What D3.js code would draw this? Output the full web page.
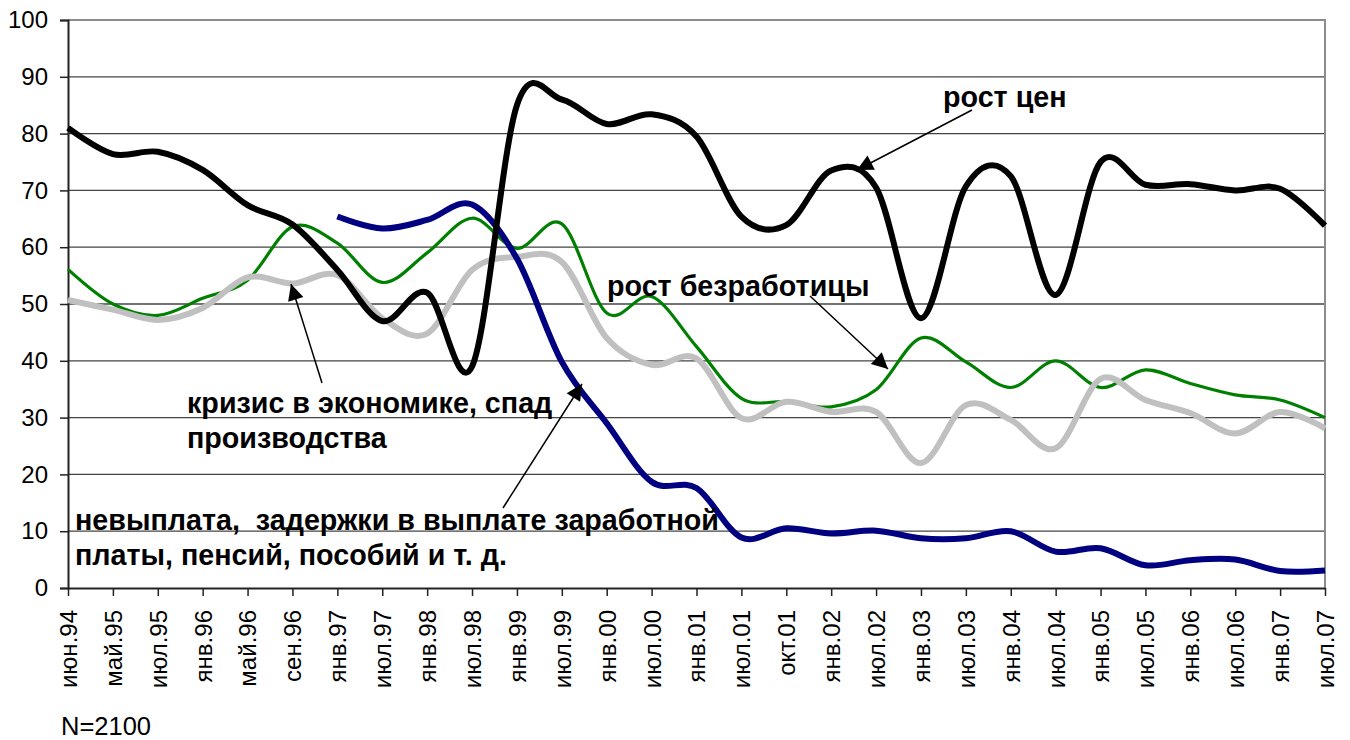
<!DOCTYPE html>
<html>
<head>
<meta charset="utf-8">
<script src="https://cdn.jsdelivr.net/npm/d3@7"></script>
<style>
  body { margin: 0; background: #fff; }
  text { font-family: "Liberation Sans", Arial, sans-serif; }
</style>
</head>
<body>
<div id="main"></div>
<script>
var months = ["июн.94", "май.95", "июл.95", "янв.96", "май.96", "сен.96", "янв.97", "июл.97",
    "янв.98", "июл.98", "янв.99", "июл.99", "янв.00", "июл.00", "янв.01", "июл.01", "окт.01",
    "янв.02", "июл.02", "янв.03", "июл.03", "янв.04", "июл.04", "янв.05", "июл.05", "янв.06",
    "июл.06", "янв.07", "июл.07"];

var prices = [81, 76.4, 76.8, 73.6, 67.4, 64, 56, 47, 52, 39, 85, 86, 81.7, 83.4, 79.5,
    65.4, 63.9, 73.5, 70.5, 47.5, 70.7, 72.5, 51.6, 75, 71, 71.1, 70, 70.3, 63.8];
var unemployment = [56.1, 50, 48, 51, 54.2, 63.6, 60.7, 53.8, 59, 65.1, 59.8, 64.1, 48.4, 51.3,
    42.5, 33.4, 32.8, 31.9, 34.9, 44, 39.8, 35.3, 40, 35.3, 38.4, 36, 34, 33.1, 30];
var crisis = [50.7, 49, 47.2, 49.3, 54.7, 53.6, 55.1, 47.5, 44.8, 56, 58.3, 57.4, 44, 39.3,
    40.4, 29.9, 32.8, 31, 31, 22, 32.2, 29.6, 24.6, 36.8, 33.1, 30.8, 27.2, 31, 28.1];
var arrears = [null, null, null, null, null, null, 65.4, 63.3, 64.8, 67.5, 58, 39.8, 29, 18.7,
    17.6, 8.9, 10.5, 9.6, 10.1, 8.75, 8.75, 10, 6.4, 7, 4, 4.9, 5, 3, 3.1];

var yTicks = [0, 10, 20, 30, 40, 50, 60, 70, 80, 90, 100];

var cfg = { width: 1350, height: 740, left: 68, right: 1325, top: 20, bottom: 588 };

var svg = d3.select("#main").append("svg")
    .attr("width", cfg.width)
    .attr("height", cfg.height);

var x = d3.scalePoint().domain(months).range([cfg.left, cfg.right]);
var y = d3.scaleLinear().domain([0, 100]).range([cfg.bottom, cfg.top]);

// gridlines
svg.selectAll(".grid")
    .data(yTicks.filter(function (d) { return d > 0 && d < 100; }))
    .enter().append("line")
    .attr("x1", cfg.left).attr("x2", cfg.right)
    .attr("y1", function (d) { return y(d); })
    .attr("y2", function (d) { return y(d); })
    .style("stroke", "#444").style("stroke-width", 1.3);

// frame top / right
svg.append("path")
    .attr("d", "M" + cfg.left + "," + y(100) + "H" + cfg.right + "V" + cfg.bottom)
    .style("fill", "none").style("stroke", "#8c8c8c").style("stroke-width", 2);

// y axis
var yAxis = svg.append("g")
    .attr("transform", "translate(" + cfg.left + ",0)")
    .call(d3.axisLeft(y).tickValues(yTicks).tickSize(8).tickPadding(12));
yAxis.select(".domain").style("stroke", "#222").style("stroke-width", 2);
yAxis.selectAll(".tick line").style("stroke", "#222").style("stroke-width", 1.5);
yAxis.selectAll("text").style("font-size", "24px").style("fill", "#000")
    .attr("font-family", null);

// x axis
var xAxis = svg.append("g")
    .attr("transform", "translate(0," + cfg.bottom + ")")
    .call(d3.axisBottom(x).tickSize(8).tickPadding(0).tickSizeOuter(0));
xAxis.select(".domain").style("stroke", "#222").style("stroke-width", 2);
xAxis.selectAll(".tick line").style("stroke", "#222").style("stroke-width", 1.5);
xAxis.selectAll("text")
    .attr("font-family", null)
    .style("font-size", "24px").style("fill", "#000")
    .attr("transform", "rotate(-90)")
    .attr("x", -22).attr("y", 0).attr("dy", "0.35em")
    .style("text-anchor", "end");

// series lines
var line = d3.line()
    .defined(function (d) { return d != null; })
    .x(function (d, i) { return x(months[i]); })
    .y(function (d) { return y(d); })
    .curve(d3.curveCardinal.tension(0));

var series = [
    { values: unemployment, color: "#008000", w: 3.2 },
    { values: crisis, color: "#c0c0c0", w: 6 },
    { values: arrears, color: "#000080", w: 6 },
    { values: prices, color: "#000000", w: 6 }
];

svg.selectAll(".series")
    .data(series)
    .enter().append("path")
    .attr("class", "series")
    .attr("d", function (d) { return line(d.values); })
    .style("fill", "none")
    .style("stroke", function (d) { return d.color; })
    .style("stroke-width", function (d) { return d.w; })
    .style("stroke-linejoin", "round");

// annotations
svg.append("defs").append("marker")
    .attr("id", "arrow")
    .attr("viewBox", "0 0 10 10")
    .attr("refX", 10).attr("refY", 5)
    .attr("markerUnits", "userSpaceOnUse")
    .attr("markerWidth", 20).attr("markerHeight", 16)
    .attr("orient", "auto")
    .append("path").attr("d", "M0,0L10,5L0,10Z").style("fill", "#000");

var arrows = [
    [972, 110, 857, 170],
    [810, 296, 888, 369],
    [322, 383, 291, 284],
    [503, 508, 582, 384]
];
svg.selectAll(".arrow")
    .data(arrows)
    .enter().append("line")
    .attr("x1", function (d) { return d[0]; })
    .attr("y1", function (d) { return d[1]; })
    .attr("x2", function (d) { return d[2]; })
    .attr("y2", function (d) { return d[3]; })
    .style("stroke", "#000").style("stroke-width", 1.5)
    .attr("marker-end", "url(#arrow)");

var notes = [
    { t: "рост цен", x: 943, y: 107 },
    { t: "рост безработицы", x: 607, y: 296 },
    { t: "кризис в экономике, спад", x: 187, y: 413 },
    { t: "производства", x: 187, y: 448 },
    { t: "невыплата,  задержки в выплате заработной", x: 75, y: 530 },
    { t: "платы, пенсий, пособий и т. д.", x: 75, y: 565 }
];
svg.selectAll(".note")
    .data(notes)
    .enter().append("text")
    .attr("x", function (d) { return d.x; })
    .attr("y", function (d) { return d.y; })
    .style("font-size", "28.7px").style("font-weight", "bold")
    .style("white-space", "pre")
    .text(function (d) { return d.t; });

svg.append("text")
    .attr("x", 61).attr("y", 735)
    .style("font-size", "25.5px")
    .text("N=2100");
</script>
</body>
</html>
